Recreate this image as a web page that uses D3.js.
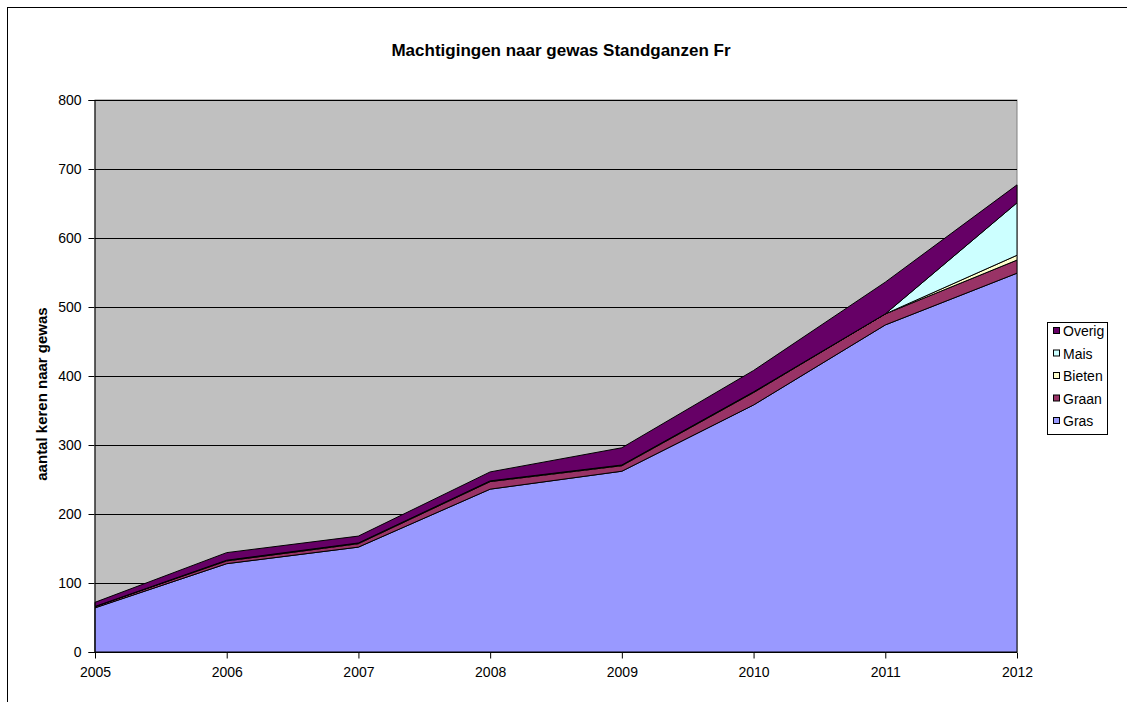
<!DOCTYPE html>
<html>
<head>
<meta charset="utf-8">
<script src="https://cdn.jsdelivr.net/npm/d3@7"></script>
<style>
  body { margin: 0; background: #fff; }
  text { font-family: 'Liberation Sans', Arial, sans-serif; }
</style>
</head>
<body>
<div id="chart"></div>
<script>
// values
const years = [2005, 2006, 2007, 2008, 2009, 2010, 2011, 2012]
const gras = [64, 128, 152, 236, 262, 358, 474, 549]
const graan = [2, 4, 5, 11, 8, 18, 16, 19]
const bieten = [0, 1, 1, 1, 1, 1, 0, 7]
const mais = [0, 0, 0, 0, 0, 0, 0, 76]
const overig = [6, 11, 10, 13, 25, 31, 46, 26]
const yTicks = [0, 100, 200, 300, 400, 500, 600, 700, 800]

const seriesNames = ['Gras', 'Graan', 'Bieten', 'Mais', 'Overig']
const seriesValues = [gras, graan, bieten, mais, overig]
const colors = ['#9999ff', '#993366', '#ffffcc', '#ccffff', '#660066']

const W = 1127, H = 702
const PLOT = { LEFT: 95, RIGHT: 1017, TOP: 100, BOTTOM: 652 }

const svg = d3.select('#chart').append('svg')
    .attr('width', W)
    .attr('height', H)

// outer chart frame (runs off the picture on right/bottom)
svg.append('rect')
    .attr('x', 7.5).attr('y', 7.5)
    .attr('width', W + 20).attr('height', H + 20)
    .attr('fill', '#fff')
    .attr('stroke', '#000')

svg.append('text')
    .attr('x', 561)
    .attr('y', 56)
    .attr('text-anchor', 'middle')
    .attr('font-size', 17)
    .attr('font-weight', 'bold')
    .text('Machtigingen naar gewas Standganzen Fr')

const x = d3.scalePoint()
    .domain(years)
    .range([PLOT.LEFT, PLOT.RIGHT])

const y = d3.scaleLinear()
    .domain([0, 800])
    .range([PLOT.BOTTOM, PLOT.TOP])

// plot area
svg.append('rect')
    .attr('x', PLOT.LEFT).attr('y', PLOT.TOP)
    .attr('width', PLOT.RIGHT - PLOT.LEFT)
    .attr('height', PLOT.BOTTOM - PLOT.TOP)
    .attr('fill', '#c0c0c0')
    .attr('stroke', '#808080')

// gridlines
svg.append('g')
    .selectAll('line')
    .data(yTicks.slice(1))
    .join('line')
        .attr('x1', PLOT.LEFT).attr('x2', PLOT.RIGHT)
        .attr('y1', d => Math.round(y(d)) + 0.5)
        .attr('y2', d => Math.round(y(d)) + 0.5)
        .attr('stroke', '#000')

// stacked data table built from the arrays
const table = years.map((yr, i) => {
    const row = { year: yr }
    seriesNames.forEach((n, j) => { row[n] = seriesValues[j][i] })
    return row
})

const stacked = d3.stack().keys(seriesNames)(table)

const area = d3.area()
    .x(d => x(d.data.year))
    .y0(d => y(d[0]))
    .y1(d => y(d[1]))

svg.append('g')
    .selectAll('path')
    .data(stacked)
    .join('path')
        .attr('d', area)
        .attr('fill', (d, i) => colors[i])
        .attr('stroke', '#000')
        .attr('stroke-width', 1)
        .attr('stroke-linejoin', 'round')

// axes
const yAxis = svg.append('g')
    .attr('transform', `translate(${ PLOT.LEFT - 0.5 }, 0)`)
    .call(d3.axisLeft(y).tickValues(yTicks).tickSize(6).tickPadding(7))
const xAxis = svg.append('g')
    .attr('transform', `translate(0, ${ PLOT.BOTTOM + 0.5 })`)
    .call(d3.axisBottom(x).tickSize(6).tickPadding(9).tickFormat(d3.format('d')))

;[yAxis, xAxis].forEach(g => {
    g.select('.domain').attr('stroke', '#000')
    g.selectAll('line').attr('stroke', '#000')
    g.selectAll('text')
        .attr('font-size', 14)
        .attr('fill', '#000')
        .attr('font-family', "'Liberation Sans', Arial, sans-serif")
})
xAxis.select('.domain').attr('d', `M${ PLOT.LEFT },0H${ PLOT.RIGHT }`)

// rotated axis title
svg.append('text')
    .attr('transform', `translate(47, 394) rotate(-90)`)
    .attr('text-anchor', 'middle')
    .attr('font-size', 15)
    .attr('font-weight', 'bold')
    .text('aantal keren naar gewas')

// legend (top entry = last series)
const legend = svg.append('g')
    .attr('transform', 'translate(1047, 322)')
legend.append('rect')
    .attr('x', 0.5).attr('y', 0.5)
    .attr('width', 60).attr('height', 112)
    .attr('fill', '#fff')
    .attr('stroke', '#000')

const items = seriesNames.map((n, i) => ({ name: n, color: colors[i] })).reverse()
const item = legend.selectAll('g.item')
    .data(items)
    .join('g')
        .attr('class', 'item')
        .attr('transform', (d, i) => `translate(6, ${ 10 + i * 22.5 })`)
item.append('rect')
    .attr('x', 0.5).attr('y', -4.5)
    .attr('width', 6).attr('height', 6)
    .attr('fill', d => d.color)
    .attr('stroke', '#000')
item.append('text')
    .attr('x', 10)
    .attr('y', 4)
    .attr('font-size', 14)
    .text(d => d.name)
</script>
</body>
</html>
